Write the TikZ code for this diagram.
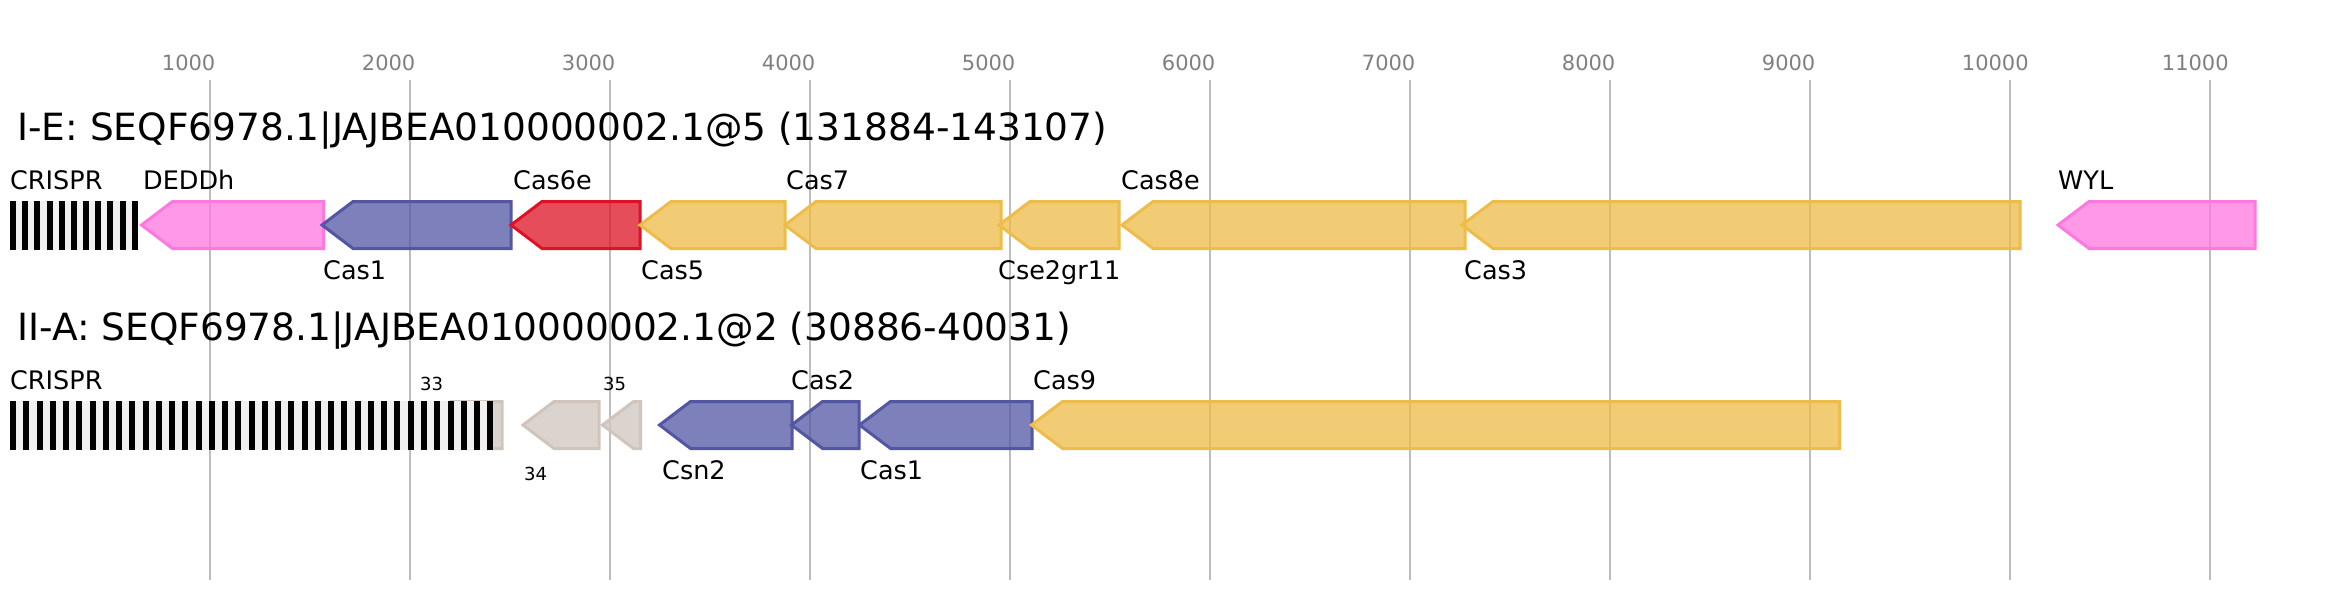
\documentclass[tikz,border=0pt]{standalone}
\usepackage{fontspec}
\setmainfont{DejaVu Sans}
\usepackage{tikz}
\definecolor{gridgray}{RGB}{190,190,190}
\definecolor{tickgray}{RGB}{128,128,128}
\definecolor{repeatgray}{RGB}{240,240,240}
\definecolor{casyellow}{RGB}{238,188,72}
\definecolor{caspurple}{RGB}{82,86,163}
\definecolor{casred}{RGB}{221,18,36}
\definecolor{caspink}{RGB}{255,120,223}
\definecolor{castan}{RGB}{208,197,189}
\tikzstyle{gridline} = [draw=gridgray, line width=2]
\tikzstyle{ticklabel} = [anchor=base west, inner sep=0, text=tickgray,
    font=\fontsize{21}{25}\selectfont]
\tikzstyle{titletext} = [anchor=base west, inner sep=0,
    font=\fontsize{37.5}{45}\selectfont]
\tikzstyle{genelabel} = [anchor=base west, inner sep=0,
    font=\fontsize{25.5}{30}\selectfont]
\tikzstyle{orflabel} = [anchor=base west, inner sep=0,
    font=\fontsize{18}{22}\selectfont]
\tikzstyle{gene} = [line width=3, line join=miter, fill opacity=0.75]
% gene pointing left: tip x, end x, centre y, colour
\newcommand{\genearrow}[4]{%
  \draw[gene, draw=#4, fill=#4] (#1,#3) -- ({#1+31},{#3-23.5}) -- (#2,{#3-23.5})
    -- (#2,{#3+23.5}) -- ({#1+31},{#3+23.5}) -- cycle;}
% CRISPR array: start x, end x, centre y, number of repeats
\newcommand{\crisprarray}[4]{%
  \fill[repeatgray] (#1,{#3-24.5}) rectangle (#2,{#3+24.5});
  \pgfmathsetmacro{\rptstep}{(#2-#1-6)/(#4-1)}
  \foreach \r in {1,...,#4}
    \fill[black] ({#1+(\r-1)*\rptstep},{#3-24.5}) rectangle ++(6,49);}

\begin{document}
\begin{tikzpicture}[x=1pt, y=-1pt]
  \fill[white] (0,0) rectangle (2345,600);
  \useasboundingbox (0,0) rectangle (2345,600);
  % axis
  \foreach \k in {1,...,11} {
    \draw[gridline] ({9.7+200*\k},80) -- ({9.7+200*\k},580);
    \node[ticklabel] (tick\k) at ({9.7+200*\k-48},70) {\k000};
  }
  % I-E locus
  \node[titletext] (titleIE) at (17,140) {I-E: SEQF6978.1|JAJBEA010000002.1@5 (131884-143107)};
  \crisprarray{10}{137.7}{225}{11}
  \genearrow{141.5}{323.5}{225}{caspink}
  \genearrow{322}{511}{225}{caspurple}
  \genearrow{511}{640}{225}{casred}
  \genearrow{640}{785}{225}{casyellow}
  \genearrow{785}{1001}{225}{casyellow}
  \genearrow{999}{1119}{225}{casyellow}
  \genearrow{1122}{1465}{225}{casyellow}
  \genearrow{1462}{2020}{225}{casyellow}
  \genearrow{2058}{2255}{225}{caspink}
  \node[genelabel] (crisprIE) at (10,189) {CRISPR};
  \node[genelabel] (deddh) at (143,189) {DEDDh};
  \node[genelabel] (cas1IE) at (323,279) {Cas1};
  \node[genelabel] (cas6e) at (513,189) {Cas6e};
  \node[genelabel] (cas5) at (641,279) {Cas5};
  \node[genelabel] (cas7) at (786,189) {Cas7};
  \node[genelabel] (cse2) at (998,279) {Cse2gr11};
  \node[genelabel] (cas8e) at (1121,189) {Cas8e};
  \node[genelabel] (cas3) at (1464,279) {Cas3};
  \node[genelabel] (wyl) at (2058,189) {WYL};
  % II-A locus
  \node[titletext] (titleIIA) at (17,340) {II-A: SEQF6978.1|JAJBEA010000002.1@2 (30886-40031)};
  \genearrow{420}{502}{425}{castan}
  \crisprarray{10}{493.3}{425}{37}
  \genearrow{523}{599}{425}{castan}
  \genearrow{602.5}{640.5}{425}{castan}
  \genearrow{659.5}{792}{425}{caspurple}
  \genearrow{791.5}{859}{425}{caspurple}
  \genearrow{859.5}{1032}{425}{caspurple}
  \genearrow{1031.5}{1839.5}{425}{casyellow}
  \node[genelabel] (crisprIIA) at (10,389) {CRISPR};
  \node[orflabel] (orf33) at (420,390) {33};
  \node[orflabel] (orf34) at (524,480) {34};
  \node[orflabel] (orf35) at (603,390) {35};
  \node[genelabel] (csn2) at (662,479) {Csn2};
  \node[genelabel] (cas2) at (791,389) {Cas2};
  \node[genelabel] (cas1IIA) at (860,479) {Cas1};
  \node[genelabel] (cas9) at (1033,389) {Cas9};
\end{tikzpicture}
\end{document}
